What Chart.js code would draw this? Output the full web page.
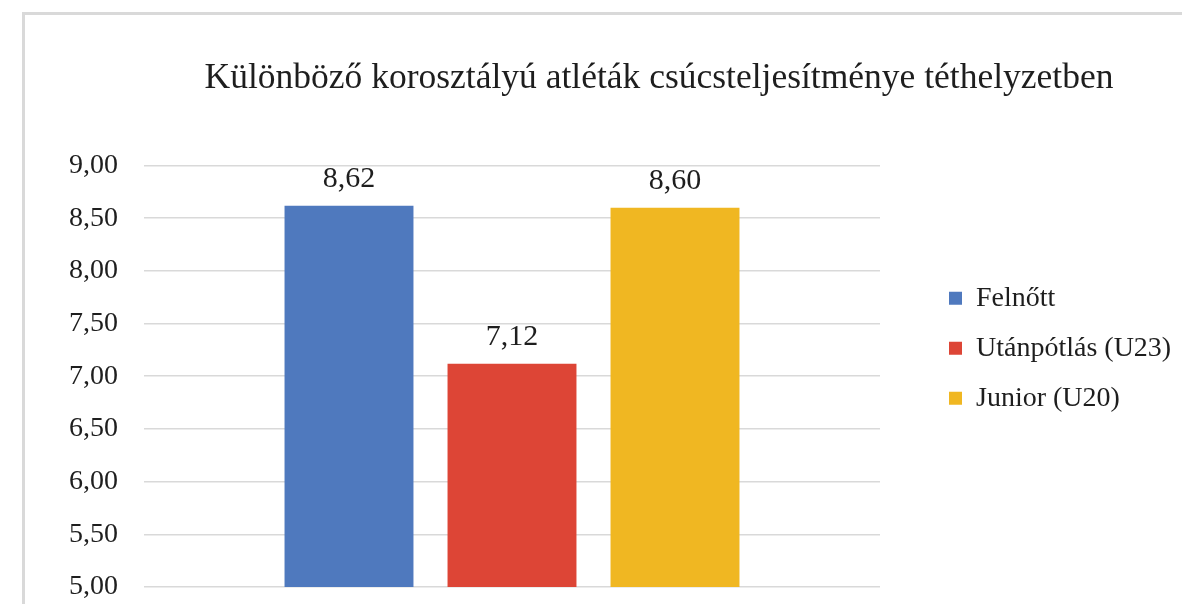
<!DOCTYPE html>
<html lang="hu">
<head>
<meta charset="utf-8">
<title>Csúcsteljesítmény téthelyzetben</title>
<script src="https://cdn.jsdelivr.net/npm/chart.js@4.4.1/dist/chart.umd.min.js"></script>
<style>
    html, body {
        margin: 0;
        padding: 0;
        background: #ffffff;
        overflow: hidden;
    }
    #frame {
        position: absolute;
        left: 22px;
        top: 12px;
        width: 2000px;
        height: 2000px;
        border: 3px solid #d9d9d9;
        box-sizing: border-box;
    }
    #wrap {
        position: absolute;
        left: 0;
        top: 0;
        width: 1318px;
        height: 604px;
    }
</style>
</head>
<body>
<div id="frame"></div>
<div id="wrap"><canvas id="chart"></canvas></div>
<script>
// adatok
const categories = [''];
const seriesNames = ['Felnőtt', 'Utánpótlás (U23)', 'Junior (U20)'];
const seriesValues = [8.62, 7.12, 8.60];
const seriesColors = ['#4f79be', '#dd4536', '#f0b722'];
const tickLabels = ['5,00', '5,50', '6,00', '6,50', '7,00', '7,50', '8,00', '8,50', '9,00'];

const chartTitle = 'Különböző korosztályú atléták csúcsteljesítménye téthelyzetben';
const serif = '"Liberation Serif", "Times New Roman", serif';

function formatNum(v) {
    return v.toFixed(2).replace('.', ',');
}

// értékek az oszlopok fölött
const valueLabels = {
    id: 'valueLabels',
    afterDatasetsDraw(chart) {
        const ctx = chart.ctx;
        ctx.save();
        ctx.font = '30px ' + serif;
        ctx.fillStyle = '#1e1e1e';
        ctx.textAlign = 'center';
        ctx.textBaseline = 'alphabetic';
        chart.data.datasets.forEach((ds, i) => {
            chart.getDatasetMeta(i).data.forEach((bar, j) => {
                ctx.fillText(formatNum(ds.data[j]), bar.x, bar.y - 19);
            });
        });
        ctx.restore();
    }
};

const datasets = seriesNames.map((name, i) => ({
    label: name,
    data: [seriesValues[i]],
    backgroundColor: seriesColors[i],
    borderWidth: 0,
    barPercentage: 0.791,
    categoryPercentage: 0.6644
}));

new Chart(document.getElementById('chart'), {
    type: 'bar',
    data: {
        labels: categories,
        datasets: datasets
    },
    plugins: [valueLabels],
    options: {
        responsive: true,
        maintainAspectRatio: false,
        animation: false,
        layout: {
            padding: { left: 0, right: 0, top: 0, bottom: 17 }
        },
        plugins: {
            title: {
                display: true,
                text: chartTitle,
                color: '#1e1e1e',
                font: { family: serif, size: 35.5, weight: 'normal' },
                padding: { top: 57, bottom: 66 }
            },
            legend: {
                position: 'right',
                align: 'center',
                maxWidth: 320,
                title: {
                    display: true,
                    text: '',
                    padding: { top: 0, bottom: 95 }
                },
                labels: {
                    color: '#1e1e1e',
                    font: { family: serif, size: 28 },
                    boxWidth: 13,
                    boxHeight: 13,
                    padding: 22
                }
            },
            tooltip: { enabled: false }
        },
        scales: {
            x: {
                display: false
            },
            y: {
                min: 5,
                max: 9,
                afterFit: (s) => {
                    s.width = 144;
                    s.paddingTop = 0;
                    s.paddingBottom = 0;
                },
                afterBuildTicks: (s) => {
                    s.ticks = tickLabels.map(t => ({ value: parseFloat(t.replace(',', '.')) }));
                },
                grid: {
                    color: '#d9d9d9',
                    lineWidth: 1.6,
                    drawTicks: false
                },
                border: { display: false },
                ticks: {
                    padding: 26,
                    color: '#1e1e1e',
                    font: { family: serif, size: 28 },
                    callback: (v, i) => tickLabels[i]
                }
            },
            // üres sáv a rajzterület és a jelmagyarázat között
            gap: {
                type: 'linear',
                position: 'right',
                display: true,
                afterFit: (s) => { s.width = 47; },
                grid: { display: false },
                border: { display: false },
                ticks: { display: false }
            },
            // jelmagyarázat jobb oldalán, a címet középre tolja
            edge: {
                type: 'linear',
                position: 'right',
                weight: 2000,
                display: true,
                afterFit: (s) => {
                    s.width = Math.max(0, s.chart.width - 927 - s.chart.legend.width);
                },
                grid: { display: false },
                border: { display: false },
                ticks: { display: false }
            }
        }
    }
});
</script>
</body>
</html>
